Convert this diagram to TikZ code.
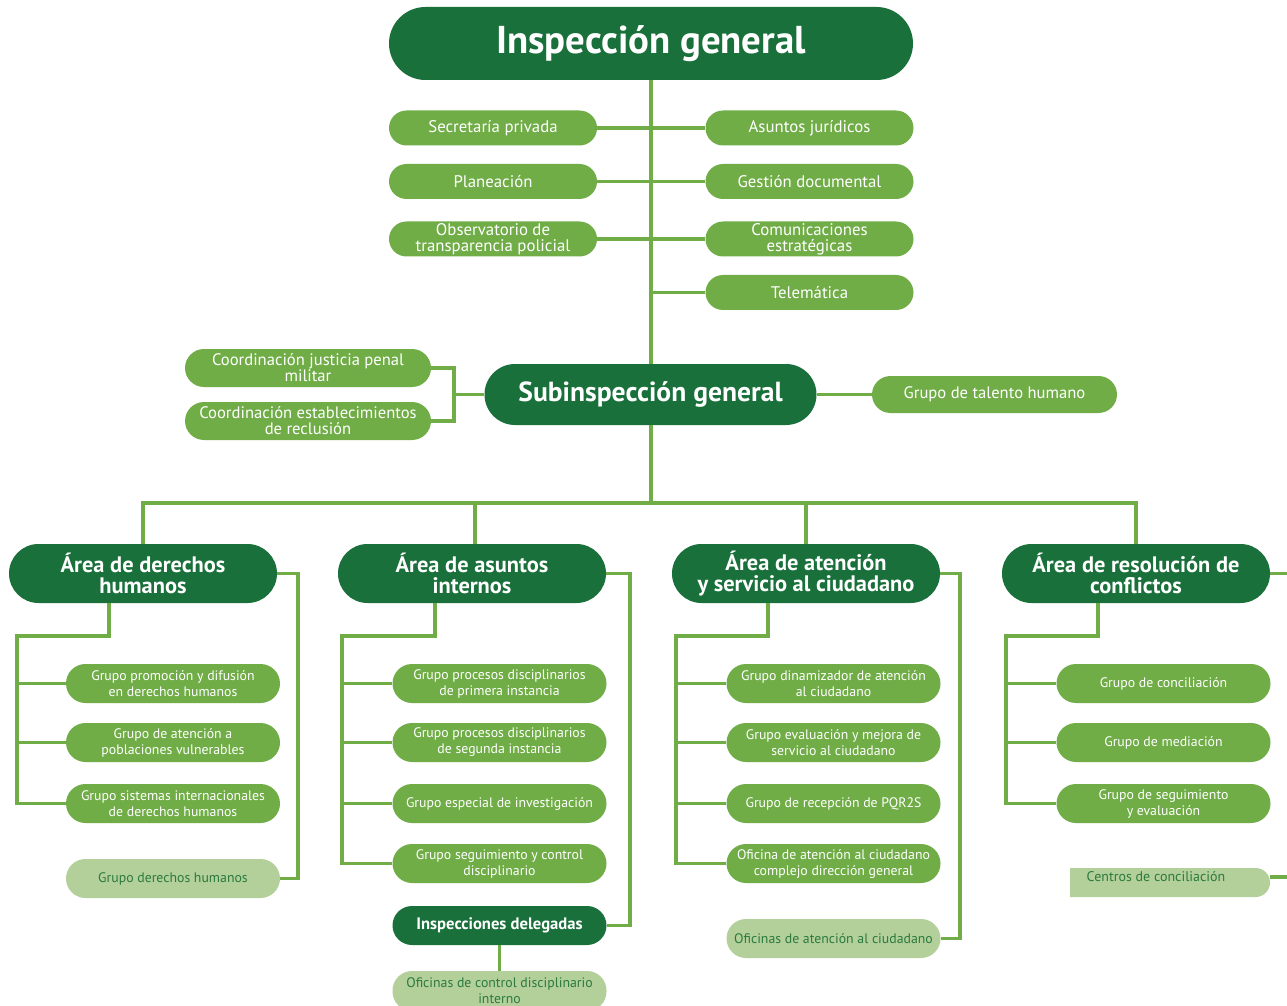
\documentclass[tikz,border=0pt]{standalone}
\usepackage{fontspec}
\setmainfont{PT Sans}
\definecolor{dkg}{HTML}{19703A}
\definecolor{lg}{HTML}{70AD47}
\definecolor{pg}{HTML}{B3CF9A}
\definecolor{pgt}{HTML}{2B7A3E}
\begin{document}
\begin{tikzpicture}[x=0.5pt,y=-0.5pt,
  conn/.style={draw=lg, line width=1.6pt},
  base/.style={inner sep=0pt, align=center},
  title/.style={base, fill=dkg, text=white, minimum width=262pt, minimum height=36.5pt, rounded corners=18.25pt, font=\bfseries\fontsize{19.4}{22}\selectfont},
  topbox/.style={base, fill=lg, text=white, minimum width=104pt, minimum height=17.5pt, rounded corners=8.75pt, font=\fontsize{8.4}{7.9}\selectfont},
  coordbox/.style={base, fill=lg, text=white, minimum width=123pt, minimum height=19pt, rounded corners=9.5pt, font=\fontsize{8.3}{7.9}\selectfont},
  subbox/.style={base, fill=dkg, text=white, minimum width=166pt, minimum height=30.5pt, rounded corners=15.25pt, font=\bfseries\fontsize{13.8}{15}\selectfont},
  talbox/.style={base, fill=lg, text=white, minimum width=122.5pt, minimum height=18.5pt, rounded corners=9.25pt, font=\fontsize{8.3}{8}\selectfont},
  areabox/.style={base, fill=dkg, text=white, minimum width=134pt, minimum height=29.5pt, rounded corners=14.75pt, font=\bfseries\fontsize{11.2}{10.6}\selectfont},
  kid/.style={base, fill=lg, text=white, minimum width=107pt, minimum height=19.5pt, rounded corners=9.75pt, font=\fontsize{6.9}{8}\selectfont},
  palekid/.style={kid, fill=pg, text=pgt},
  dkkid/.style={kid, fill=dkg, text=white, font=\bfseries\fontsize{8.3}{8}\selectfont}
]
\useasboundingbox (0,0) rectangle (1287,1006);
\fill[white] (0,0) rectangle (1287,1006);
\clip (0,0) rectangle (1287,1006);

% top level
\node[title] (ig) at (651,43.5) {Inspección general};
\node[topbox] (sec) at (493,128) {Secretaría privada};
\node[topbox] (pla) at (493,181.5) {Planeación};
\node[topbox] (obs) at (493,239) {Observatorio de\\transparencia policial};
\node[topbox] (asu) at (809.5,128) {Asuntos jurídicos};
\node[topbox] (ges) at (809.5,181.5) {Gestión documental};
\node[topbox] (com) at (809.5,239) {Comunicaciones\\estratégicas};
\node[topbox] (tel) at (809.5,292.5) {Telemática};

\node[subbox] (sub) at (650.5,394.5) {Subinspección general};
\node[coordbox] (cj) at (308,368) {Coordinación justicia penal\\militar};
\node[coordbox] (ce) at (308,421) {Coordinación establecimientos\\de reclusión};
\node[talbox] (th) at (994.5,394.5) {Grupo de talento humano};

\coordinate (bar) at (651,503);
\coordinate (bk) at (454,394.5);

\draw[conn] (ig.south) -- (ig.south |- sub.north);
\draw[conn] (ig.south |- sub.south) -- (bar);
\draw[conn] (sec.east) -- (asu.west);
\draw[conn] (pla.east) -- (ges.west);
\draw[conn] (obs.east) -- (com.west);
\draw[conn] (tel.west) -- (tel.west -| ig.south);
\draw[conn] (cj.east) -| (bk) |- (ce.east);
\draw[conn] (bk) -- (sub.west);
\draw[conn] (sub.east) -- (th.west);

% areas
\node[areabox] (adh) at (143,573.5) {Área de derechos\\humanos};
\node[areabox] (aai) at (472,573.5) {Área de asuntos\\internos};
\node[areabox] (aat) at (806,573.5) {Área de atención\\y servicio al ciudadano};
\node[areabox] (arc) at (1136,573.5) {Área de resolución de\\conflictos};

\draw[conn] (adh.north) |- (bar) -| (arc.north);
\draw[conn] ([xshift=1.5pt]aai.north) -- ([xshift=1.5pt]aai.north |- bar);
\draw[conn] (aat.north) -- (aat.north |- bar);

% DH
\node[kid] (dh1) at (173,683.5) {Grupo promoción y difusión\\en derechos humanos};
\node[kid] (dh2) at (173,742.5) {Grupo de atención a\\poblaciones vulnerables};
\node[kid] (dh3) at (173,803.5) {Grupo sistemas internacionales\\de derechos humanos};
\node[palekid] (dhp) at (173,878.5) {Grupo derechos humanos};

% AI
\node[kid] (ai1) at (499.5,683.5) {Grupo procesos disciplinarios\\de primera instancia};
\node[kid] (ai2) at (499.5,742.5) {Grupo procesos disciplinarios\\de segunda instancia};
\node[kid] (ai3) at (499.5,803.5) {Grupo especial de investigación};
\node[kid] (ai4) at (499.5,863.5) {Grupo seguimiento y control\\disciplinario};
\node[dkkid] (del) at (499.5,925.5) {Inspecciones delegadas};
\node[palekid, minimum height=20pt] (ofc) at (499.5,991) {Oficinas de control disciplinario\\interno};

% AT
\node[kid] (at1) at (833.5,683.5) {Grupo dinamizador de atención\\al ciudadano};
\node[kid] (at2) at (833.5,742.5) {Grupo evaluación y mejora de\\servicio al ciudadano};
\node[kid] (at3) at (833.5,803.5) {Grupo de recepción de PQR2S};
\node[kid] (at4) at (833.5,863.5) {Oficina de atención al ciudadano\\complejo dirección general};
\node[palekid] (atp) at (833.5,938.5) {Oficinas de atención al ciudadano};

% RC
\node[kid] (rc1) at (1163.5,683.5) {Grupo de conciliación};
\node[kid] (rc2) at (1163.5,742.5) {Grupo de mediación};
\node[kid] (rc3) at (1163.5,803.5) {Grupo de seguimiento\\y evaluación};
\fill[pg] (1070,897) -- (1070,868) -- (1255.5,868) arc (-90:90:14.5) -- cycle;
\node[base, minimum width=100pt, minimum height=4pt, text=pgt, font=\fontsize{7}{8}\selectfont] (cen) at (1170,877) {\hspace*{-14pt}Centros de conciliación};

% rails
\coordinate (dhr) at (17,636);
\coordinate (air) at (342,636);
\coordinate (atr) at (676,636);
\coordinate (rcr) at (1006,636);
\draw[conn] ([xshift=-17pt]adh.south) |- (dhr) |- (dh3.west);
\draw[conn] (dhr |- dh1.west) -- (dh1.west);
\draw[conn] (dhr |- dh2.west) -- (dh2.west);
\draw[conn] ([xshift=-18.5pt]aai.south) |- (air) |- (ai4.west);
\draw[conn] (air |- ai1.west) -- (ai1.west);
\draw[conn] (air |- ai2.west) -- (ai2.west);
\draw[conn] (air |- ai3.west) -- (ai3.west);
\draw[conn] ([xshift=-19pt]aat.south) |- (atr) |- (at4.west);
\draw[conn] (atr |- at1.west) -- (at1.west);
\draw[conn] (atr |- at2.west) -- (at2.west);
\draw[conn] (atr |- at3.west) -- (at3.west);
\draw[conn] ([xshift=-19pt]arc.south) |- (rcr) |- (rc3.west);
\draw[conn] (rcr |- rc1.west) -- (rc1.west);
\draw[conn] (rcr |- rc2.west) -- (rc2.west);

\coordinate (dhq) at (298,573.5);
\coordinate (aiq) at (630,573.5);
\coordinate (atq) at (960,573.5);
\coordinate (rcq) at (1300,573.5);
\coordinate (cenq) at (1300,877);
\draw[conn] (adh.east) -- (dhq) |- (dhp.east);
\draw[conn] (aai.east) -- (aiq) |- (del.east);
\draw[conn] (aat.east) -- (atq) |- (atp.east);
\draw[conn] (arc.east) -- (rcq);
\draw[conn] (cen.east) -- (cenq);
\draw[conn] (del.south) -- (ofc.north);
\end{tikzpicture}
\end{document}
